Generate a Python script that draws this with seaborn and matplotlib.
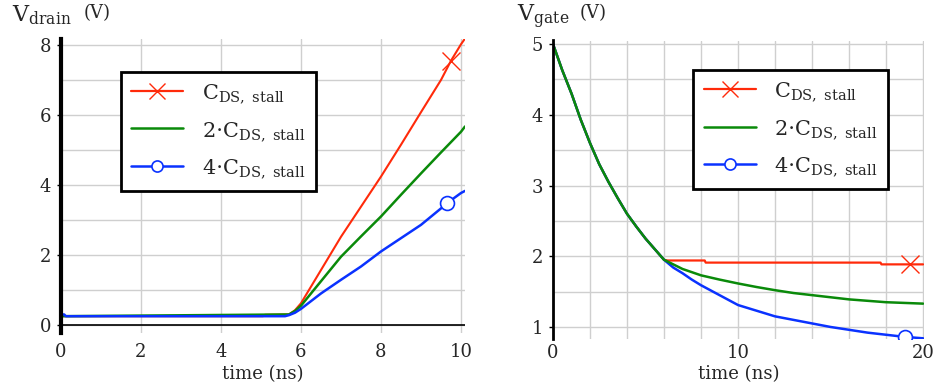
import numpy as np
import pandas as pd
import matplotlib
matplotlib.use("Agg")
import matplotlib.pyplot as plt
import seaborn as sns
from matplotlib.legend_handler import HandlerLine2D
from matplotlib.lines import Line2D
from matplotlib.ticker import MultipleLocator

# ---------------- data ----------------
series_labels = [r"C$_{\mathrm{DS,\ stall}}$", r"2$\cdot$C$_{\mathrm{DS,\ stall}}$", r"4$\cdot$C$_{\mathrm{DS,\ stall}}$"]

# drain voltage (left panel)
drain_t_red = [0, 5.05, 5.1, 5.7, 5.85, 6.0, 6.5, 7.0, 7.5, 8.0, 8.5, 9.0, 9.5, 9.75, 10.0, 10.08]
drain_v_red = [0.25, 0.25, 0.29, 0.30, 0.42, 0.62, 1.57, 2.52, 3.38, 4.24, 5.15, 6.08, 7.0, 7.55, 8.02, 8.15]
drain_t_green = [0, 5.7, 5.85, 6.0, 6.5, 7.0, 7.5, 8.0, 8.5, 9.0, 9.5, 10.0, 10.1]
drain_v_green = [0.25, 0.30, 0.40, 0.55, 1.25, 1.95, 2.53, 3.10, 3.72, 4.33, 4.93, 5.52, 5.67]
drain_t_blue = [0, 0.08, 0.12, 5.6, 5.7, 5.85, 6.0, 6.5, 7.0, 7.5, 8.0, 8.5, 9.0, 9.5, 9.65, 10.0, 10.1]
drain_v_blue = [0.30, 0.30, 0.25, 0.25, 0.28, 0.35, 0.46, 0.90, 1.29, 1.67, 2.10, 2.48, 2.86, 3.33, 3.48, 3.77, 3.83]
drain_marker_red = 13
drain_marker_blue = 14

# gate voltage (right panel)
decay_t = [0, 0.5, 1, 1.5, 2, 2.5, 3, 3.5, 4, 4.5, 5, 5.5, 6]
decay_v = [5.0, 4.63, 4.3, 3.93, 3.6, 3.3, 3.05, 2.82, 2.6, 2.42, 2.25, 2.1, 1.95]
gate_t_red = decay_t + [6.2, 8.2, 8.25, 17.7, 17.75, 19.3, 20]
gate_v_red = decay_v + [1.94, 1.94, 1.91, 1.91, 1.885, 1.885, 1.885]
gate_t_green = decay_t + [7, 8, 9, 10, 11, 12, 13, 14, 15, 16, 17, 18, 19, 20]
gate_v_green = decay_v + [1.82, 1.73, 1.67, 1.615, 1.565, 1.52, 1.48, 1.45, 1.42, 1.39, 1.37, 1.35, 1.34, 1.33]
gate_t_blue = decay_t + [6.5, 7, 7.5, 8, 8.5, 9, 9.5, 10, 11, 12, 13, 14, 15, 16, 17, 18, 19, 20]
gate_v_blue = decay_v + [1.84, 1.76, 1.67, 1.59, 1.52, 1.45, 1.38, 1.31, 1.23, 1.15, 1.10, 1.05, 1.00, 0.96, 0.92, 0.89, 0.86, 0.84]
gate_marker_red = len(decay_t) + 5
gate_marker_blue = len(decay_t) + 16

# ---------------- style ----------------
sns.set_style("white")
plt.rcParams["font.family"] = ["DejaVu Serif"]
plt.rcParams["mathtext.fontset"] = "dejavuserif"

RED = "#ff2a0a"
GREEN = "#0a8a0a"
BLUE = "#0a32ff"
GRID = "#cfcfcf"
FS = 12

fig = plt.figure(figsize=(9.34, 3.89), dpi=100)
W, H = 934, 389
ax1 = fig.add_axes([61 / W, 1 - 333 / H, (465 - 61) / W, (333 - 39) / H])
ax2 = fig.add_axes([553 / W, 1 - 339 / H, (924 - 553) / W, (339 - 40.5) / H])


def draw(ax, t, v, color, lw, marker=None, mk_idx=None, zorder=2):
    df = pd.DataFrame({"t": t, "v": v})
    kw = {}
    if marker == "x":
        kw = dict(marker="x", markevery=[mk_idx], markersize=13, markeredgewidth=1.0,
                  markeredgecolor=color)
    elif marker == "o":
        kw = dict(marker="o", markevery=[mk_idx], markersize=10, markeredgewidth=1.2,
                  markerfacecolor="white", markeredgecolor=color)
    sns.lineplot(data=df, x="t", y="v", ax=ax, color=color, lw=lw, sort=False,
                 estimator=None, legend=False, zorder=zorder, **kw)


# left panel
draw(ax1, drain_t_red, drain_v_red, RED, 1.5, "x", drain_marker_red, 3)
draw(ax1, drain_t_green, drain_v_green, GREEN, 1.8, zorder=4)
draw(ax1, drain_t_blue, drain_v_blue, BLUE, 1.8, "o", drain_marker_blue, 5)

# right panel
draw(ax2, gate_t_red, gate_v_red, RED, 1.6, "x", gate_marker_red, 3)
draw(ax2, gate_t_blue, gate_v_blue, BLUE, 1.8, "o", gate_marker_blue, 4)
draw(ax2, gate_t_green, gate_v_green, GREEN, 1.8, zorder=5)

# axes formatting
ax1.set_xlim(0, 10.1)
ax1.set_ylim(-0.23, 8.17)
ax1.xaxis.set_major_locator(MultipleLocator(2))
ax1.yaxis.set_major_locator(MultipleLocator(2))
ax1.yaxis.set_minor_locator(MultipleLocator(1))
ax1.axhline(0, color="black", lw=1.2, zorder=2)

ax2.set_xlim(0, 20.05)
ax2.set_ylim(0.83, 5.05)
ax2.xaxis.set_major_locator(MultipleLocator(10))
ax2.xaxis.set_minor_locator(MultipleLocator(2))
ax2.yaxis.set_major_locator(MultipleLocator(1))
ax2.yaxis.set_minor_locator(MultipleLocator(0.5))

for ax, spw, xpad, lpad in ((ax1, 3.0, 7.5, 2.5), (ax2, 2.0, 3.5, 2.5)):
    ax.grid(True, which="both", color=GRID, lw=1.0, zorder=0)
    ax.set_axisbelow(True)
    for s in ("top", "right", "bottom"):
        ax.spines[s].set_visible(False)
    ax.spines["left"].set_color("black")
    ax.spines["left"].set_linewidth(spw)
    ax.spines["left"].set_zorder(6)
    ax.tick_params(axis="x", which="both", length=0, labelsize=FS + 1, pad=xpad)
    ax.tick_params(axis="y", which="major", length=3, width=1, color="black",
                   labelsize=FS + 1, pad=4, left=True)
    ax.tick_params(axis="y", which="minor", length=0)
    ax.set_xlabel("time (ns)", fontsize=FS + 1, labelpad=lpad)
    ax.set_ylabel("")

ax1.set_xticks([0, 2, 4, 6, 8, 10])
ax1.xaxis.set_minor_locator(MultipleLocator(2))


# legend with marker at line end
class EndMarkerHandler(HandlerLine2D):
    def get_xdata(self, legend, xdescent, ydescent, width, height, fontsize):
        xdata = [-xdescent, -xdescent + width]
        return xdata, [-xdescent + width - 1]


def make_handles():
    return [
        Line2D([], [], color=RED, lw=1.6, marker="x", markersize=11, markeredgewidth=1.0),
        Line2D([], [], color=GREEN, lw=1.8),
        Line2D([], [], color=BLUE, lw=1.8, marker="o", markersize=8, markeredgewidth=1.2,
               markerfacecolor="white", markeredgecolor=BLUE),
    ]


for ax, anchor in ((ax1, (0.1485, 0.888)), (ax2, (0.378, 0.901))):
    leg = ax.legend(make_handles(), series_labels, loc="upper left", bbox_to_anchor=anchor,
                    borderaxespad=0, frameon=True, fancybox=False, framealpha=1,
                    edgecolor="black", fontsize=FS + 3, handlelength=2.5, handletextpad=0.9,
                    labelspacing=0.7, borderpad=0.5,
                    handler_map={Line2D: EndMarkerHandler(numpoints=1)})
    leg.get_frame().set_linewidth(2.0)
    leg.set_zorder(10)

fig.text(12 / W, 1 - 21 / H, r"V$_{\mathrm{drain}}$", fontsize=FS + 4, va="baseline", ha="left")
fig.text(84 / W, 1 - 18 / H, "(V)", fontsize=FS + 1, va="baseline", ha="left")
fig.text(517 / W, 1 - 21 / H, r"V$_{\mathrm{gate}}$", fontsize=FS + 4, va="baseline", ha="left")
fig.text(580 / W, 1 - 18 / H, "(V)", fontsize=FS + 1, va="baseline", ha="left")

fig.savefig("out.png", dpi=100, facecolor="white")
